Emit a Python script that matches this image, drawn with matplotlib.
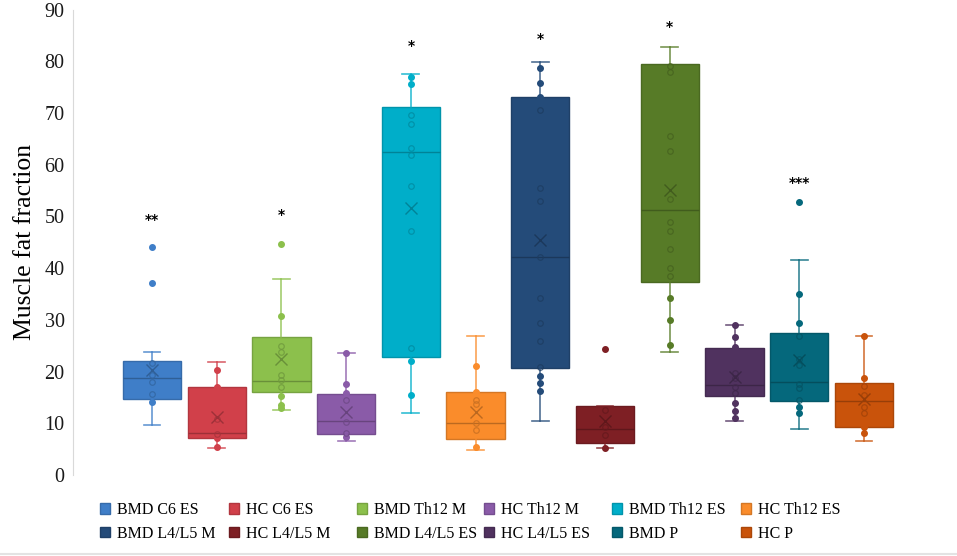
import matplotlib
matplotlib.use("Agg")
import matplotlib.pyplot as plt
from matplotlib.patches import Patch
from matplotlib.lines import Line2D
import matplotlib.colors as mcolors

plt.rcParams['font.family'] = ['Liberation Serif', 'DejaVu Serif']

# Excel-style box plot: summary stats
groups = ['BMD C6 ES', 'HC C6 ES', 'BMD Th12 M', 'HC Th12 M', 'BMD Th12 ES', 'HC Th12 ES',
          'BMD L4/L5 M', 'HC L4/L5 M', 'BMD L4/L5 ES', 'HC L4/L5 ES', 'BMD P', 'HC P']
colors = ['#3f7ec8', '#d1404a', '#8cc04c', '#8a5ba8', '#00aec9', '#fa8c2b',
          '#244b79', '#7e1f24', '#577b27', '#50325f', '#05687c', '#c9530b']

q1 = [14.6, 7.1, 16.0, 7.9, 22.8, 6.9, 20.6, 6.1, 37.4, 15.3, 14.3, 9.3]
medians = [18.7, 8.1, 18.1, 10.4, 62.5, 10.0, 42.2, 8.9, 51.3, 17.5, 18.0, 14.3]
q3 = [22.1, 17.1, 26.6, 15.6, 71.2, 16.1, 73.1, 13.4, 79.4, 24.6, 27.5, 17.7]
whisker_low = [9.6, 5.2, 12.6, 6.6, 11.9, 4.8, 10.5, 5.2, 23.7, 10.4, 8.9, 6.6]
whisker_high = [23.8, 21.9, 38.0, 23.5, 77.6, 26.9, 79.9, 13.4, 82.7, 29.0, 41.5, 26.8]
means = [20.3, 11.3, 22.4, 12.1, 51.7, 12.1, 45.5, 10.5, 55.1, 19.0, 22.2, 14.6]

points = [
    [44.0, 37.1, 21.6, 19.3, 17.9, 15.6, 14.1],
    [20.4, 17.1, 10.8, 7.9, 7.1, 5.5],
    [44.7, 30.8, 25.0, 23.8, 19.3, 18.4, 17.1, 15.3, 13.5, 12.9],
    [23.5, 17.6, 15.8, 14.5, 10.3, 8.2, 7.4],
    [77.0, 75.6, 69.6, 67.9, 63.3, 61.9, 55.9, 47.1, 24.5, 22.1, 15.4],
    [21.1, 16.1, 14.5, 13.7, 10.0, 8.7, 5.5],
    [78.7, 75.8, 73.1, 70.6, 55.5, 53.0, 42.2, 34.3, 29.3, 26.0, 20.9, 19.2, 17.7, 16.3],
    [24.4, 12.6, 9.3, 7.7, 5.2],
    [79.0, 77.9, 65.6, 62.7, 53.4, 48.9, 47.1, 43.7, 40.0, 38.5, 34.3, 30.0, 25.1],
    [29.0, 26.6, 24.7, 19.7, 18.7, 17.1, 15.8, 13.9, 12.4, 11.0],
    [52.7, 35.0, 29.3, 26.9, 22.4, 21.3, 17.6, 16.8, 14.5, 13.2, 11.9],
    [26.8, 18.8, 17.3, 15.5, 13.2, 11.9, 9.3, 8.1],
]

# significance marks
star_groups = [0, 2, 4, 6, 8, 10]
star_labels = ['**', '*', '*', '*', '*', '***']
star_y = [49.3, 50.3, 83.0, 84.3, 86.6, 56.5]


def darker(c, f=0.7):
    r, g, b = mcolors.to_rgb(c)
    return (r * f, g * f, b * f)


fig = plt.figure(figsize=(9.57, 5.56), dpi=100)
ax = fig.add_axes([0.0763, 0.1457, 0.909, 0.837])

stats = []
for i in range(len(groups)):
    stats.append({'label': groups[i], 'q1': q1[i], 'med': medians[i], 'q3': q3[i],
                  'whislo': whisker_low[i], 'whishi': whisker_high[i], 'mean': means[i],
                  'fliers': []})

pos = list(range(len(groups)))
bp = ax.bxp(stats, positions=pos, widths=0.9, patch_artist=True, showfliers=False,
            showmeans=False, capwidths=0.26)

for i, c in enumerate(colors):
    bp['boxes'][i].set_facecolor(c)
    bp['boxes'][i].set_edgecolor(darker(c, 0.85))
    bp['boxes'][i].set_linewidth(1.0)
    bp['medians'][i].set_color(darker(c, 0.75))
    bp['medians'][i].set_linewidth(1.0)
    for w in bp['whiskers'][2 * i:2 * i + 2]:
        w.set_color(c)
        w.set_linewidth(1.2)
        w.set_alpha(0.8)
    for cp in bp['caps'][2 * i:2 * i + 2]:
        cp.set_color(c)
        cp.set_linewidth(1.2)
        cp.set_alpha(0.8)

    inside = [v for v in points[i] if q1[i] < v < q3[i]]
    outside = [v for v in points[i] if not (q1[i] < v < q3[i])]
    ax.plot([i] * len(outside), outside, 'o', ms=4, color=c, zorder=4)
    ax.plot([i] * len(inside), inside, 'o', ms=4, mfc='none', mec=darker(c, 0.8),
            mew=0.9, alpha=0.8, zorder=4)
    ax.plot(i, means[i], 'x', ms=9, mew=1.0, color=darker(c, 0.75), zorder=5)

for g, lab, y in zip(star_groups, star_labels, star_y):
    ax.text(g, y, lab, ha='center', va='center', fontsize=10, fontweight='bold',
            family='DejaVu Sans')

ax.set_xlim(-1.22, 12.22)
ax.set_ylim(0, 90)
ax.set_yticks(range(0, 91, 10))
ax.set_xticks([])
ax.tick_params(axis='y', length=0, labelsize=14.5, pad=6, labelcolor='#1a1a1a')
for s in ['top', 'right', 'bottom']:
    ax.spines[s].set_visible(False)
ax.spines['left'].set_color('#d9d9d9')
ax.set_ylabel('Muscle fat fraction', fontsize=18.5, labelpad=6)

# legend: one library legend per column so columns sit at Excel's even spacing
handles = [Patch(facecolor=c, edgecolor=darker(c, 0.85)) for c in colors]
col_x = [100, 229, 357, 484, 612, 741]
for j, x in enumerate(col_x):
    fig.legend([handles[j], handles[j + 6]], [groups[j], groups[j + 6]], ncol=1,
               loc='upper left', bbox_to_anchor=(x / 957, 0.097),
               frameon=False, fontsize=11.5, handlelength=0.6, handleheight=0.6,
               handletextpad=0.45, labelspacing=0.5, borderpad=0, borderaxespad=0)

fig.add_artist(Line2D([0, 1], [0.004, 0.004], color='#e3e3e3', lw=1.5,
                      transform=fig.transFigure))

fig.savefig('out.png', dpi=100)
